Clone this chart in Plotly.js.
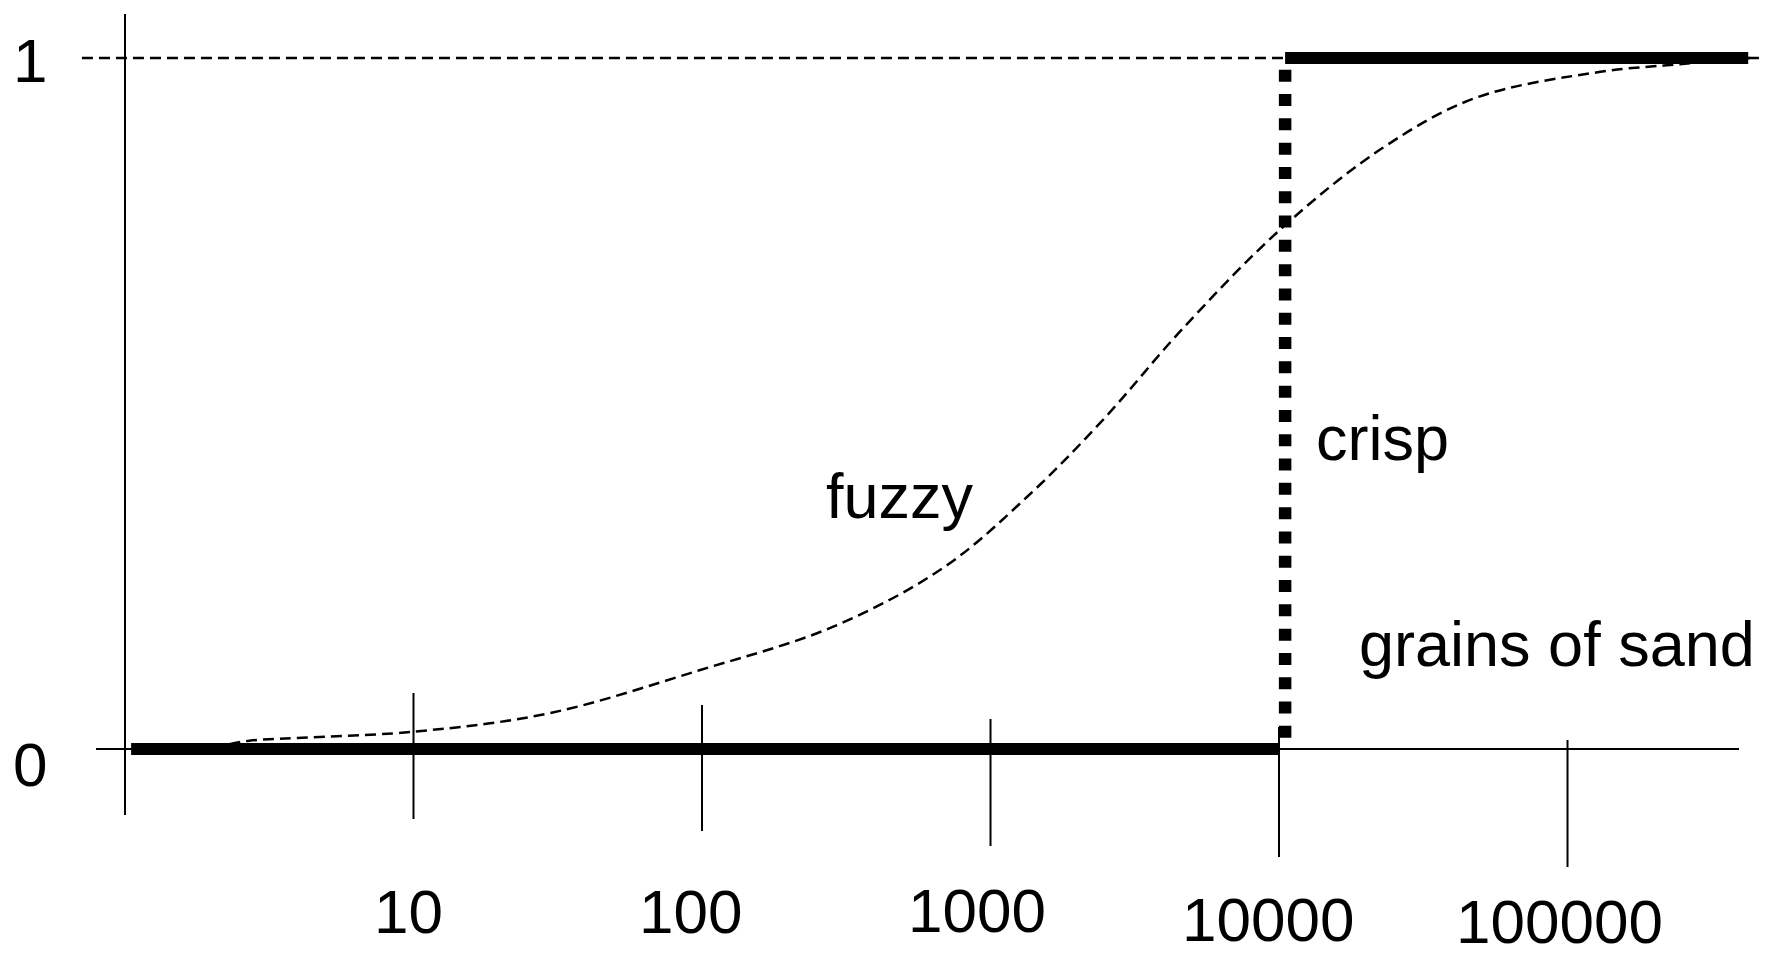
<!DOCTYPE html>
<html>
<head>
<meta charset="utf-8">
<script src="https://cdn.plot.ly/plotly-3.0.1.min.js"></script>
<style>
html, body { margin: 0; padding: 0; background: #ffffff; }
#chart { width: 1780px; height: 956px; }
</style>
</head>
<body>
<div id="chart"></div>
<script>
// ---------- data ----------
const tickVals = [10, 100, 1000, 10000, 100000];
const tickLabels = ['10', '100', '1000', '10000', '100000'];
const yTickVals = [0, 1];
const yTickLabels = ['0', '1'];

// fuzzy membership curve (grains of sand -> degree of "heap")
const fuzzyX = [2.3, 2.7, 10, 29.7, 98, 285, 690, 1340, 2450, 4650, 10300, 22900, 47800, 130000, 245000, 429000];
const fuzzyY = [0.007, 0.012, 0.025, 0.052, 0.114, 0.177, 0.263, 0.365, 0.476, 0.609, 0.755, 0.870, 0.942, 0.980, 0.991, 1.0];

// crisp step function
const crispLowX = [1.05, 10000];
const crispLowY = [0, 0];
const crispJumpX = [10500, 10500];
const crispJumpY = [0.983, 0.015];
const crispHighX = [10500, 423000];
const crispHighY = [1, 1];

// text labels
const labelTexts = ['fuzzy', 'crisp', 'grains of sand'];
const labelX = [269, 13430, 18920];
const labelY = [0.366, 0.450, 0.152];

// ---------- styling ----------
const FONT = 'Liberation Sans, Arial, Helvetica, sans-serif';
const tickAbove = [56, 44, 30, 22, 9];
const tickBelow = [70, 82, 97, 108, 118];
const tickLabelShiftX = [-5, -12, -14, -11, -8];
const tickLabelShiftY = [-162, -162, -161, -170, -172];
const yLabelShiftY = [-15, -2];

const traces = [
  { x: fuzzyX, y: fuzzyY, type: 'scatter', mode: 'lines',
    line: { color: '#000', width: 2.5, dash: '11px,6px', shape: 'spline', smoothing: 1 },
    hoverinfo: 'skip' },
  { x: crispLowX, y: crispLowY, type: 'scatter', mode: 'lines',
    line: { color: '#000', width: 12 }, hoverinfo: 'skip' },
  { x: crispJumpX, y: crispJumpY, type: 'scatter', mode: 'lines',
    line: { color: '#000', width: 12.5, dash: '12px,12.3px' }, hoverinfo: 'skip' },
  { x: crispHighX, y: crispHighY, type: 'scatter', mode: 'lines',
    line: { color: '#000', width: 12 }, hoverinfo: 'skip' }
];

const shapes = [];
// horizontal axis line at y = 0
shapes.push({ type: 'line', layer: 'below', xref: 'paper', yref: 'y',
  x0: 0.021, x1: 0.979, y0: 0, y1: 0, line: { color: '#000', width: 2 } });
// vertical axis line at x = 1
shapes.push({ type: 'line', layer: 'below', xref: 'x', yref: 'y',
  x0: 1, x1: 1, y0: 1.0637, y1: -0.0955, line: { color: '#000', width: 2 } });
// dashed reference line at y = 1
shapes.push({ type: 'line', layer: 'below', xref: 'paper', yref: 'y',
  x0: 0.0128, x1: 0.9913, y0: yTickVals[1], y1: yTickVals[1],
  line: { color: '#000', width: 2.5, dash: '11px,6px' } });
// tick marks crossing the axis
tickVals.forEach((v, i) => {
  shapes.push({ type: 'line', layer: 'below', xref: 'x', yref: 'y',
    ysizemode: 'pixel', yanchor: 0,
    x0: v, x1: v, y0: -tickBelow[i], y1: tickAbove[i],
    line: { color: '#000', width: 2 } });
});

const annotations = [];
tickVals.forEach((v, i) => {
  annotations.push({ xref: 'x', yref: 'y', x: Math.log10(v), y: 0,
    text: tickLabels[i], showarrow: false, xanchor: 'center', yanchor: 'middle',
    xshift: tickLabelShiftX[i], yshift: tickLabelShiftY[i],
    borderpad: 0, borderwidth: 0,
    font: { family: FONT, size: 62, color: '#000' } });
});
yTickVals.forEach((v, i) => {
  annotations.push({ xref: 'paper', yref: 'y', x: -0.0175, y: v,
    text: yTickLabels[i], showarrow: false, xanchor: 'center', yanchor: 'middle',
    yshift: yLabelShiftY[i], borderpad: 0, borderwidth: 0,
    font: { family: FONT, size: 62, color: '#000' } });
});
labelTexts.forEach((t, i) => {
  annotations.push({ xref: 'x', yref: 'y', x: Math.log10(labelX[i]), y: labelY[i],
    text: t, showarrow: false, xanchor: 'left', yanchor: 'middle',
    borderpad: 0, borderwidth: 0,
    font: { family: FONT, size: 63, color: '#000' } });
});

const layout = {
  width: 1780, height: 956,
  margin: { l: 60, r: 5, t: 5, b: 56, pad: 0 },
  paper_bgcolor: '#ffffff', plot_bgcolor: '#ffffff',
  showlegend: false, hovermode: false,
  xaxis: { type: 'log', range: [-0.2253, 5.7192], visible: false, fixedrange: true },
  yaxis: { range: [-0.2185, 1.0767], visible: false, fixedrange: true },
  shapes: shapes,
  annotations: annotations
};

Plotly.newPlot('chart', traces, layout, { staticPlot: true, displayModeBar: false });
</script>
</body>
</html>
